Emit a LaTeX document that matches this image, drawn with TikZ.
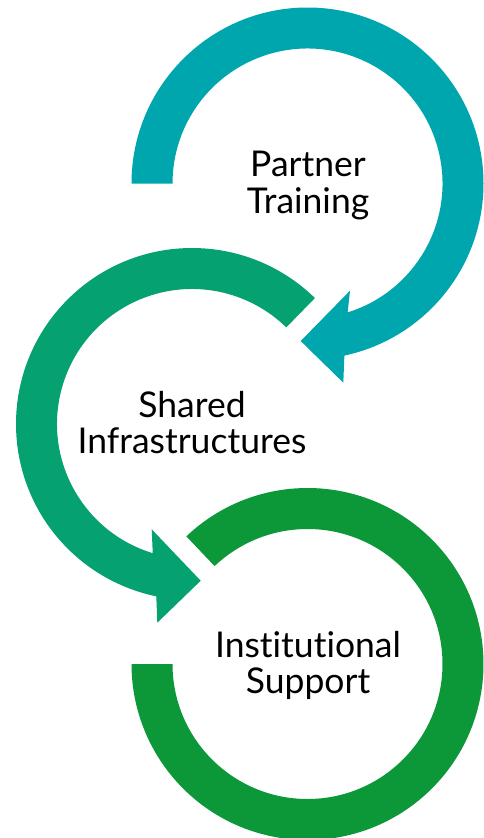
\documentclass[tikz,border=0pt]{standalone}
\usepackage{fontspec}
\setmainfont{Lato}[Ligatures={NoCommon,NoContextual}]
\definecolor{arrTeal}{RGB}{0,166,173}
\definecolor{arrMint}{RGB}{6,161,112}
\definecolor{arrGreen}{RGB}{12,151,57}
\tikzset{
  lbl/.style={anchor=base, inner sep=0pt, text=black, font=\fontsize{35.5}{36}\selectfont},
}
\begin{document}
\begin{tikzpicture}[x=1pt,y=-1pt]
\useasboundingbox (0,0) rectangle (484,838);
\clip (0,0) rectangle (484,838);
\fill[white] (0,0) rectangle (484,838);
\coordinate (c1) at (307.5,183.5);
\coordinate (c2) at (192,424);
\coordinate (c3) at (307.5,664);
% top arrow
\fill[arrTeal] ([shift={(180:176)}]c1) arc[start angle=180, end angle=437.9, radius=176]
  -- (343.3,382.7) -- (300.7,341) -- (350,290.7)
  -- ([shift={(72.7:135)}]c1) arc[start angle=432.7, end angle=180, radius=135] -- cycle;
% middle arrow
\fill[arrMint] ([shift={(-45.7:176)}]c2) arc[start angle=-45.7, end angle=-258.3, radius=176]
  -- (157.3,622.7) -- (200.7,580.7) -- (151.7,529.3)
  -- ([shift={(-253.1:135)}]c2) arc[start angle=-253.1, end angle=-45.7, radius=135] -- cycle;
% bottom arc
\fill[arrGreen] ([shift={(-133.5:176)}]c3) arc[start angle=-133.5, end angle=180, radius=176]
  -- ([shift={(180:135)}]c3) arc[start angle=180, end angle=-133.5, radius=135] -- cycle;
% labels
\node[lbl] (t1a) at ([shift={(0.5,-7)}]c1) {Partner};
\node[lbl] (t1b) at ([shift={(0.5,29.5)}]c1) {Training};
\node[lbl] (t2a) at ([shift={(0,-7)}]c2) {Shared};
\node[lbl] (t2b) at ([shift={(0,29.5)}]c2) {Infrastructures};
\node[lbl] (t3a) at ([shift={(0.5,-7)}]c3) {Institutional};
\node[lbl] (t3b) at ([shift={(0.5,29.5)}]c3) {Support};
\end{tikzpicture}
\end{document}
